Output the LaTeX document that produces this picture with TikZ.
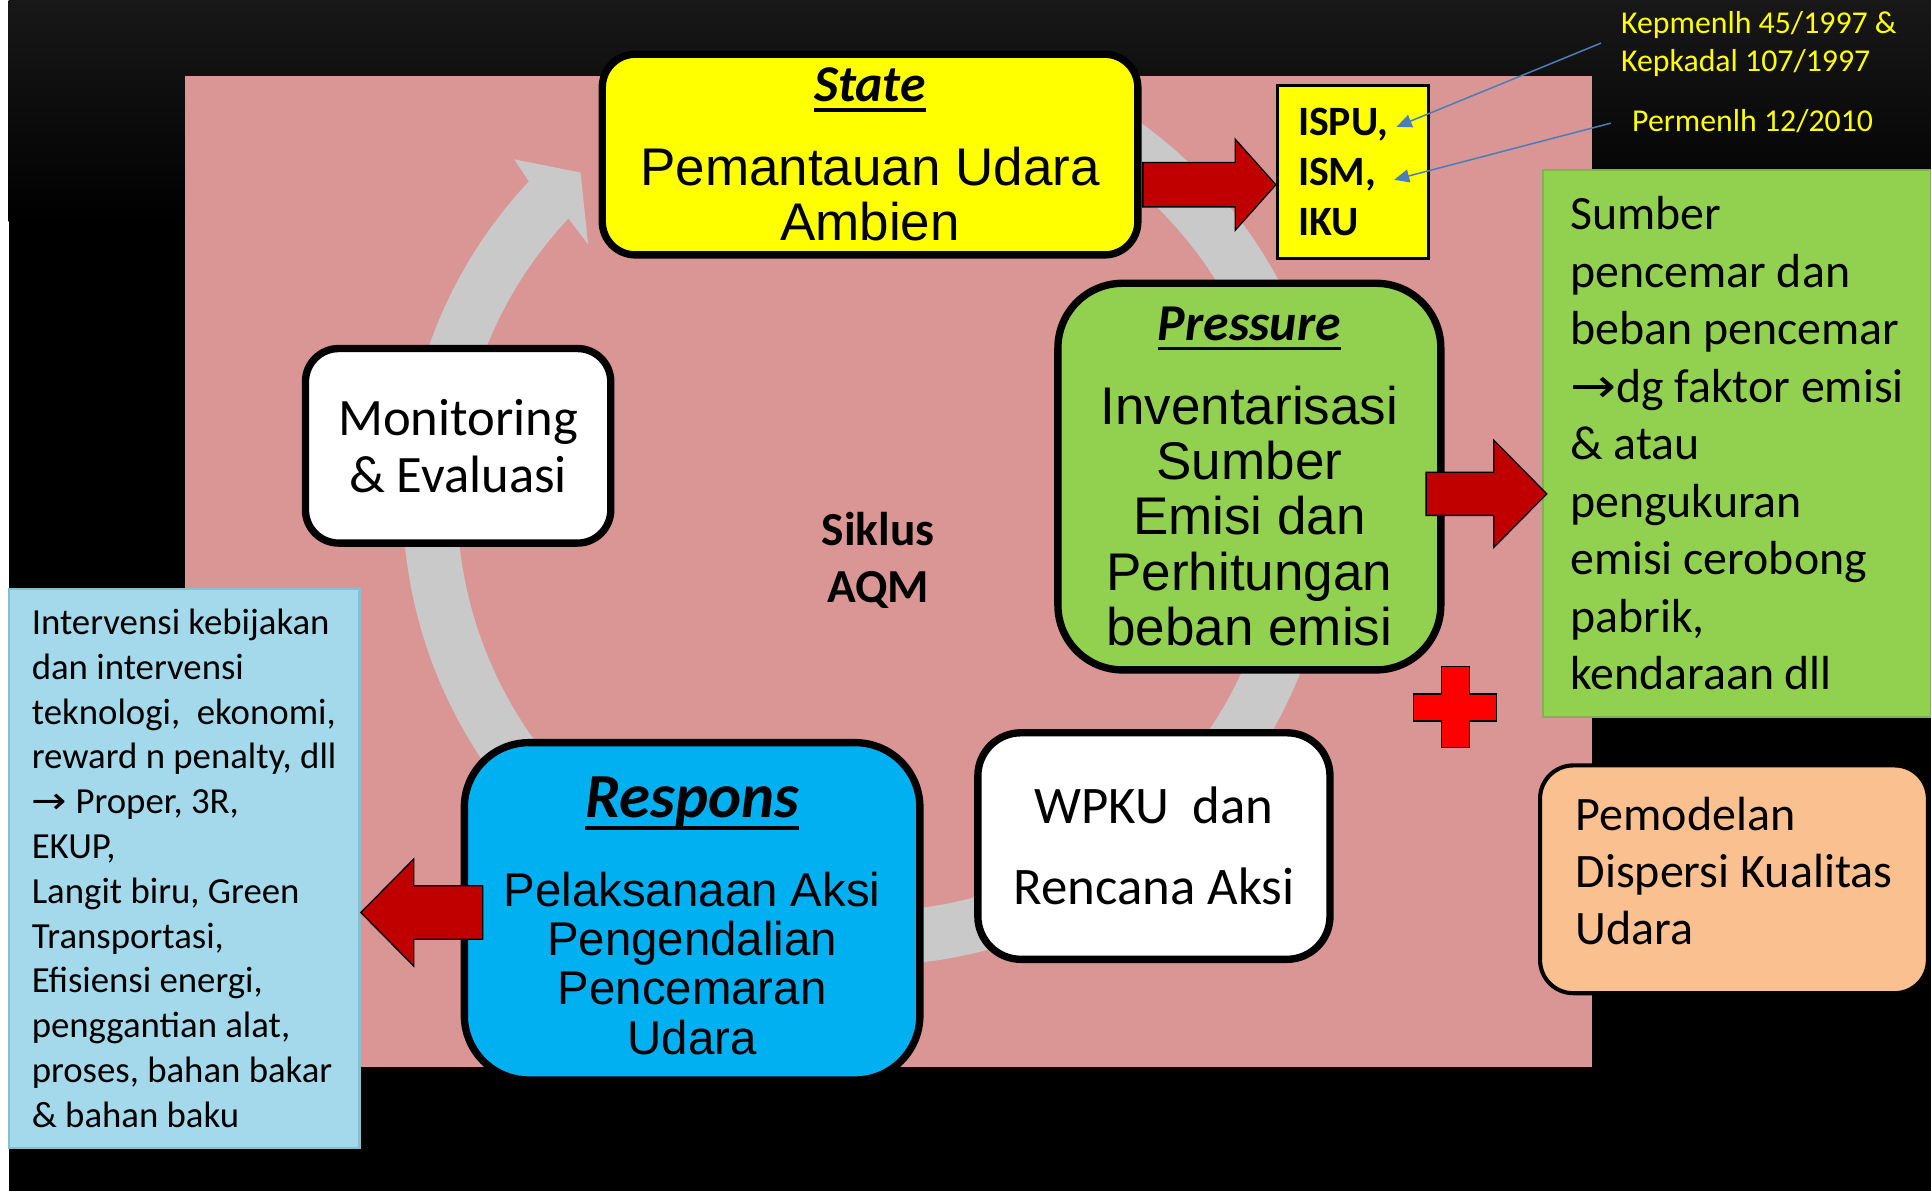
\documentclass[tikz,border=0pt]{standalone}
\usepackage{fontspec}
\setmainfont{Carlito}
\newfontfamily\arialfont{Liberation Sans}
\newfontfamily\symfont{DejaVu Sans}
\usepackage{graphicx}
\usepackage{tikz}
\usetikzlibrary{calc}
\usetikzlibrary{arrows.meta}

\definecolor{aqmpink}{HTML}{D99694}
\definecolor{ringgray}{HTML}{C9C9C9}
\definecolor{aqmyellow}{HTML}{FFFF00}
\definecolor{aqmgreen}{HTML}{92D050}
\definecolor{greenedge}{HTML}{86B04C}
\definecolor{aqmblue}{HTML}{00B0F0}
\definecolor{aqmlightblue}{HTML}{A3D9EA}
\definecolor{bevelblue}{HTML}{86BFD0}
\definecolor{aqmpeach}{HTML}{FAC090}
\definecolor{arrowred}{HTML}{C00000}
\definecolor{crossred}{HTML}{FF0000}
\definecolor{annotblue}{HTML}{4A7EBB}
\definecolor{topgray}{HTML}{181818}

\newlength\titlewd
\newcommand{\fsz}[2]{\fontsize{#1}{#2}\selectfont}
\newcommand{\boxtitle}[1]{\rmfamily\bfseries\itshape\settowidth{\titlewd}{#1}\rlap{#1}\rule[-0.19em]{\titlewd}{0.065em}}
\newcommand{\rarr}{{\symfont\scalebox{1.15}[1]{→}}}
% block arrow: start, length, shaft half, head half, head length
\newcommand{\fatarrow}[5]{%
  \draw[redblock] (#1) ++(0,-#3) -- ++({#2-(#5)},0) -- ++(0,{#3-(#4)}) -- ++(#5,#4)
    -- ++({-(#5)},#4) -- ++(0,{#3-(#4)}) -- ++({#5-(#2)},0) -- cycle;}

\begin{document}
\begin{tikzpicture}[
    x=0.02cm, y=-0.02cm,
    cyclebox/.style={
      draw=black,
      line width=3.4pt,
      align=center,
      inner sep=0pt
    },
    redblock/.style={
      fill=arrowred,
      draw=black,
      line width=0.6pt,
      line join=miter
    },
    annot/.style={
      draw=annotblue,
      line width=0.7pt,
      -{Triangle[length=7pt,width=6pt]}
    },
    notebox/.style={
      align=left,
      inner sep=0pt
    }
  ]
  \useasboundingbox (0,0) rectangle (1568,967);

  % background
  \fill[white] (0,0) rectangle (1568,967);
  \fill[black] (7,0) rectangle (1568,967);
  \shade[top color=topgray, bottom color=black] (7,0) rectangle (1568,180);
  \fill[aqmpink] (150,62) rectangle (1293,866);

  % cycle arrow
  \coordinate (cyc) at (705,406);
  \fill[ringgray] plot[domain=-58:223.2, samples=120] ({705+378*cos(\x)},{406+378*sin(\x)})
    -- ($(cyc)+(223.9:399)$) -- ($(cyc)+(228.7:354)$) -- ($(cyc)+(222.4:308)$)
    -- plot[domain=223.2:-58, samples=120] ({705+334*cos(\x)},{406+334*sin(\x)}) -- cycle;

  \node[font=\bfseries\fsz{21.9}{26.2}, align=center] (siklus) at (713,455) {Siklus\\AQM};

  \node[cyclebox, fill=aqmyellow, rounded corners=0.54cm, minimum width=8.70cm, minimum height=3.26cm,
        font=\arialfont\fsz{24.5}{25.6}] (state) at (706.5,125.5)
        {{\fsz{23.9}{26}\boxtitle{State}}\\[13pt]Pemantauan Udara\\Ambien};

  \node[cyclebox, fill=white, rounded corners=0.54cm, minimum width=4.96cm, minimum height=3.16cm,
        font=\fsz{24.3}{26.2}] (monev) at (372,362) {Monitoring\\\& Evaluasi};

  \node[cyclebox, fill=aqmgreen, rounded corners=1.05cm, minimum width=6.22cm, minimum height=6.28cm,
        font=\arialfont\fsz{24.5}{25.6}] (pressure) at (1014.5,387)
        {{\fsz{23.9}{26}\boxtitle{Pressure}}\\[13pt]Inventarisasi\\Sumber\\Emisi dan\\Perhitungan\\beban emisi};

  \node[cyclebox, fill=white, rounded corners=0.7cm, minimum width=5.72cm, minimum height=3.68cm,
        font=\fsz{24.4}{37.6}] (wpku) at (937,687) {WPKU~ dan\\Rencana Aksi};

  \node[cyclebox, fill=aqmblue, rounded corners=1.05cm, minimum width=7.40cm, minimum height=5.48cm,
        font=\arialfont\fsz{21.9}{22.8}] (respons) at (562,740)
        {{\fsz{29}{30}\rule{0pt}{23pt}\boxtitle{Respons}}\\[18pt]Pelaksanaan Aksi\\Pengendalian\\Pencemaran\\Udara};

  \node[draw=black, line width=1.4pt, fill=aqmyellow, minimum width=2.41cm, minimum height=2.81cm,
        text width=1.78cm, inner xsep=0.34cm, inner ysep=0pt, align=left,
        font=\bfseries\fsz{19.3}{23}] (ispu) at (1098.5,139.5) {ISPU,\\ISM,\\IKU};

  \node[notebox, fill=aqmgreen, draw=greenedge, line width=1pt, minimum width=6.30cm, minimum height=8.88cm,
        font=\fsz{22.1}{26.6}] (sources) at (1410.5,360)
        {Sumber\\pencemar dan\\beban pencemar\\\rarr dg faktor emisi\\\& atau\\pengukuran\\emisi cerobong\\pabrik,\\kendaraan dll};

  \node[notebox, draw=black, line width=1.9pt, fill=aqmpeach, rounded corners=0.54cm,
        minimum width=6.30cm, minimum height=3.70cm, font=\fsz{22.2}{26.5}] (model) at (1408,714)
        {Pemodelan\\Dispersi Kualitas\\Udara\rule[-0.28cm]{0pt}{0pt}};

  \node[notebox, fill=aqmlightblue, draw=bevelblue, line width=1pt, minimum width=5.70cm, minimum height=9.08cm,
        font=\fsz{17}{20.7}] (policy) at (149.5,705)
        {Intervensi kebijakan\\dan intervensi\\teknologi,~ ekonomi,\\reward n penalty, dll\\\rarr{} Proper, 3R,\\EKUP,\\Langit biru, Green\\Transportasi,\\Efisiensi energi,\\penggantian alat,\\proses, bahan bakar\\\& bahan baku};

  % block arrows
  \coordinate (stateout) at (928,150);
  \coordinate (pressout) at (1158,401);
  \coordinate (respout) at (392,741);
  \fatarrow{stateout}{108}{18}{37}{33}
  \fatarrow{pressout}{98}{17.5}{43.5}{43}
  \fatarrow{respout}{-99}{21.7}{43.5}{-43}

  \draw[fill=crossred, draw=black, line width=0.6pt] (1170.5,541) -- (1193,541) -- (1193,563.5) -- (1215,563.5)
    -- (1215,585.5) -- (1193,585.5) -- (1193,607) -- (1170.5,607) -- (1170.5,585.5) -- (1148,585.5)
    -- (1148,563.5) -- (1170.5,563.5) -- cycle;

  % regulations
  \node[notebox, anchor=west, text=aqmyellow, font=\fsz{14.7}{17.6}] (kepmen) at (1316,36)
        {Kepmenlh 45/1997 \&\\Kepkadal 107/1997};
  \node[notebox, anchor=west, text=aqmyellow, font=\fsz{14.7}{17.6}] (permen) at (1325,98) {Permenlh 12/2010};
  \coordinate (ispuA) at (1134,103);
  \coordinate (ispuB) at (1132,146);
  \draw[annot] ($(kepmen.west)+(-16,-1)$) -- (ispuA);
  \draw[annot] ($(permen.west)+(-17,2)$) -- (ispuB);
\end{tikzpicture}
\end{document}
